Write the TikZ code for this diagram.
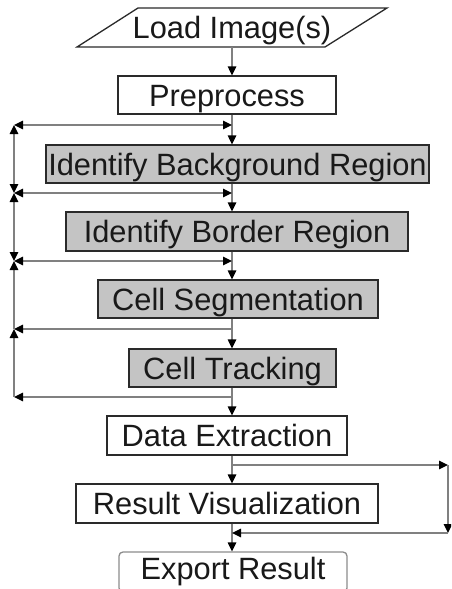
\documentclass[tikz,border=0pt]{standalone}
\usepackage{fontspec}
\setmainfont{Liberation Sans}
\usetikzlibrary{arrows.meta}
\definecolor{boxfill}{HTML}{C4C4C4}
\definecolor{conn}{HTML}{808080}
\definecolor{bord}{HTML}{2A2A2A}
\tikzset{
  x=1pt, y=-1pt,
  lbl/.style={font=\fontsize{30.8pt}{36pt}\selectfont, inner sep=0pt, text=black!90,
              text height=22pt, text depth=0pt},
  plainbox/.style={lbl, draw=bord, line width=1.3pt, fill=white},
  greybox/.style={lbl, draw=bord, line width=1.3pt, fill=boxfill},
  endbox/.style={lbl, draw=black!45, line width=1.3pt, fill=white, rounded corners=4pt},
  tip/.tip={Triangle[length=9pt,width=8.5pt,color=black]},
  conline/.style={draw=conn, line width=1.4pt},
  flow/.style={conline, -tip},
  both/.style={conline, tip-tip},
}
\begin{document}
\begin{tikzpicture}
\useasboundingbox (0,0) rectangle (451,589);
\clip (0,0) rectangle (451,589);
\fill[white] (0,0) rectangle (451,589);

% Load image parallelogram
\draw[bord, line width=1.3pt] (138,8) -- (387,8) -- (325,47) -- (77,47) -- cycle;
\node[lbl, minimum width=180pt, minimum height=39pt] (load) at (232,27.5) {Load Image(s)};

\node[plainbox, minimum width=218pt, minimum height=38pt] (pre) at (227,95) {Preprocess};
\node[greybox, minimum width=383pt, minimum height=38pt] (bg) at (237.5,164) {Identify Background Region};
\node[greybox, minimum width=342pt, minimum height=39pt] (bd) at (237,231.5) {Identify Border Region};
\node[greybox, minimum width=280pt, minimum height=38pt] (seg) at (238,299) {Cell Segmentation};
\node[greybox, minimum width=207pt, minimum height=38pt] (trk) at (232.5,368) {Cell Tracking};
\node[plainbox, minimum width=240pt, minimum height=39pt] (dat) at (227,435.5) {Data Extraction};
\node[plainbox, minimum width=302pt, minimum height=39pt] (viz) at (227,503.5) {Result Visualization};
\node[endbox, minimum width=228pt, minimum height=40pt, text height=22pt, text depth=7pt] (exp) at (233,572) {Export Result};

% coordinates of the feedback network
\coordinate (r1) at (232,125); \coordinate (l1) at (14,125);
\coordinate (r2) at (232,193); \coordinate (l2) at (14,193);
\coordinate (r3) at (232,261); \coordinate (l3) at (14,261);
\coordinate (r4) at (232,329); \coordinate (l4) at (14,329);
\coordinate (r5) at (232,397); \coordinate (l5) at (14,397);
\coordinate (s1) at (232,465); \coordinate (s2) at (448,465);
\coordinate (s3) at (448,533); \coordinate (s4) at (232,533);

% main flow
\draw[flow] (load.south -| 232,0) -- (pre.north -| 232,0);
\draw[flow] (pre.south -| 232,0) -- (bg.north -| 232,0);
\draw[flow] (bg.south -| 232,0) -- (bd.north -| 232,0);
\draw[flow] (bd.south -| 232,0) -- (seg.north -| 232,0);
\draw[flow] (seg.south -| 232,0) -- (trk.north -| 232,0);
\draw[flow] (trk.south -| 232,0) -- (dat.north -| 232,0);
\draw[flow] (dat.south -| 232,0) -- (viz.north -| 232,0);
\draw[flow] (viz.south -| 232,0) -- (exp.north -| 232,0);

% left feedback lines
\draw[both] (l1) -- (r1);
\draw[both] (l2) -- (r2);
\draw[both] (l3) -- (r3);
\draw[flow] (r4) -- (l4);
\draw[flow] (r5) -- (l5);
\draw[both] (l1) -- (l2);
\draw[both] (l2) -- (l3);
\draw[flow] (l4) -- (l3);
\draw[flow] (l5) -- (l4);

% right loop
\draw[flow] (s1) -- (s2);
\draw[flow] (s2) -- (s3);
\draw[flow] (s3) -- (s4);
\end{tikzpicture}
\end{document}
